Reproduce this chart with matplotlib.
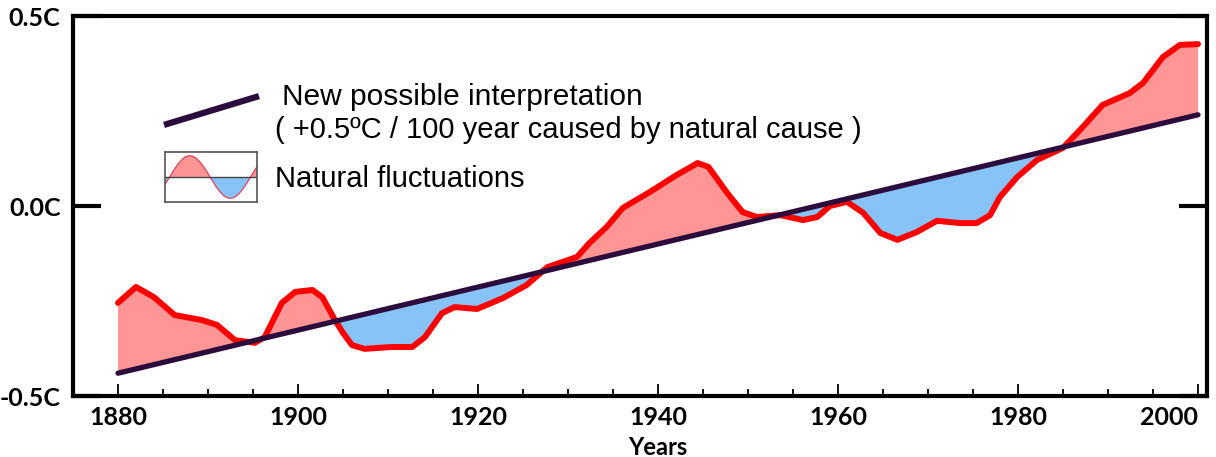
"""
Natural fluctuations around a linear warming trend, 1880-2000
"""

import numpy as np
import matplotlib.pyplot as plt
from matplotlib.ticker import MultipleLocator

# temperature anomaly curve (deg C)
years = [1880, 1882, 1884, 1886.3, 1889.3, 1891, 1893, 1895.2, 1896.3, 1898.2,
         1899.7, 1901.6, 1902.7, 1904.1, 1905, 1906, 1907.4, 1910.4, 1912.7, 1914.1,
         1916, 1917.4, 1919.9, 1922.8, 1925.4, 1927.7, 1931, 1932.4, 1934.3, 1936.1,
         1939.1, 1942.1, 1944.4, 1945.6, 1947.7, 1949.4, 1951, 1953.6, 1956.1, 1957.7,
         1959.1, 1961, 1962.8, 1964.7, 1966.6, 1968.8, 1971, 1973.6, 1975.4, 1976.9,
         1978, 1979.9, 1982.1, 1985, 1987.2, 1989.4, 1992.4, 1993.9, 1996.1, 1998,
         2000]
temps = [-0.255, -0.213, -0.24, -0.287, -0.30, -0.313, -0.353, -0.36, -0.345, -0.255,
         -0.226, -0.221, -0.24, -0.30, -0.334, -0.366, -0.376, -0.371, -0.371, -0.345,
         -0.282, -0.266, -0.271, -0.242, -0.208, -0.161, -0.134, -0.097, -0.055, -0.005,
         0.037, 0.082, 0.113, 0.103, 0.034, -0.016, -0.029, -0.024, -0.037, -0.029,
         0.0, 0.011, -0.018, -0.071, -0.089, -0.068, -0.039, -0.045, -0.045, -0.024,
         0.024, 0.076, 0.121, 0.153, 0.208, 0.266, 0.297, 0.324, 0.392, 0.424,
         0.426]

# straight "natural cause" trend
trend_years = [1880, 2000]
trend_temps = [-0.44, 0.24]

year_ticks = [1880, 1900, 1920, 1940, 1960, 1980, 2000]
temp_ticks = [-0.5, 0.0, 0.5]
temp_labels = ['-0.5C', '0.0C', '0.5C']

RED_LINE = '#ff0000'
RED_FILL = '#ff9595'
BLUE_FILL = '#88c3f8'
TREND = '#2c0c3c'


def px(x, y):
    """pixel position (from top-left) -> figure fraction"""
    return x / 1216, 1 - y / 457


fig = plt.figure(figsize=(12.16, 4.57), dpi=100)
ax = fig.add_axes([73 / 1216, 61 / 457, 1134 / 1216, 380 / 457])

yrs = np.array(years)
tmp = np.array(temps)
base = np.interp(yrs, trend_years, trend_temps)

ax.fill_between(yrs, tmp, base, where=tmp >= base, interpolate=True,
                color=RED_FILL, lw=0, zorder=1)
ax.fill_between(yrs, tmp, base, where=tmp < base, interpolate=True,
                color=BLUE_FILL, lw=0, zorder=1)
ax.plot(yrs, tmp, color=RED_LINE, lw=4.3, solid_joinstyle='round',
        solid_capstyle='round', zorder=2)
ax.plot(trend_years, trend_temps, color=TREND, lw=3.8,
        solid_capstyle='round', zorder=3)

ax.set_xlim(1875, 2001)
ax.set_ylim(-0.5, 0.5)

ax.set_xticks(year_ticks)
ax.set_xticklabels([str(y) for y in year_ticks])
ax.xaxis.set_minor_locator(MultipleLocator(5))
ax.tick_params(axis='x', which='major', direction='in', length=9, width=1.3, pad=7)
ax.tick_params(axis='x', which='minor', direction='in', length=5, width=1.3)

ax.set_yticks(temp_ticks)
ax.set_yticklabels(temp_labels)
ax.tick_params(axis='y', direction='in', length=20, width=3, pad=9,
               right=True)

for lab in ax.get_xticklabels() + ax.get_yticklabels():
    lab.set_fontfamily('Lato')
    lab.set_fontweight('bold')
    lab.set_fontsize(18)
ax.get_xticklabels()[-1].set_horizontalalignment('right')
ax.get_xticklabels()[-1].set_x(2001)

for s in ax.spines.values():
    s.set_linewidth(3)

ax.set_xlabel('Years', fontfamily='Lato', fontweight='bold', fontsize=17)
ax.xaxis.set_label_coords((1940 - 1875) / 126, -0.105)

# legend: trend line sample and texts
x0, y0 = px(167, 124)
x1, y1 = px(256, 97)
fig.add_artist(plt.Line2D([x0, x1], [y0, y1], color=TREND, lw=4.5,
                          transform=fig.transFigure))
fig.text(*px(282, 97), 'New possible interpretation', fontfamily='Liberation Sans',
         fontsize=21.5, va='center', ha='left')
fig.text(*px(275, 130), '( +0.5ºC / 100 year caused by natural cause )',
         fontfamily='Liberation Sans', fontsize=21, va='center', ha='left')
fig.text(*px(275, 179), 'Natural fluctuations', fontfamily='Liberation Sans',
         fontsize=21, va='center', ha='left')

# legend: fluctuation icon
bx, by = px(165, 202)
icon = fig.add_axes([bx, by, 92 / 1216, 50 / 457])
wx = np.linspace(0, 1, 200)
wy = 0.85 * np.sin(2 * np.pi * (wx - 0.05) / 0.88)
icon.fill_between(wx, wy, 0, where=wy >= 0, interpolate=True, color=RED_FILL, lw=0)
icon.fill_between(wx, wy, 0, where=wy < 0, interpolate=True, color=BLUE_FILL, lw=0)
icon.plot(wx, wy, color='#e0405a', lw=0.9)
icon.axhline(0, color='#444444', lw=1.0)
icon.set_xlim(0, 1)
icon.set_ylim(-1, 1)
icon.set_xticks([])
icon.set_yticks([])
for s in icon.spines.values():
    s.set_linewidth(1.2)
    s.set_color('#555555')

fig.savefig('out.png', dpi=100)
